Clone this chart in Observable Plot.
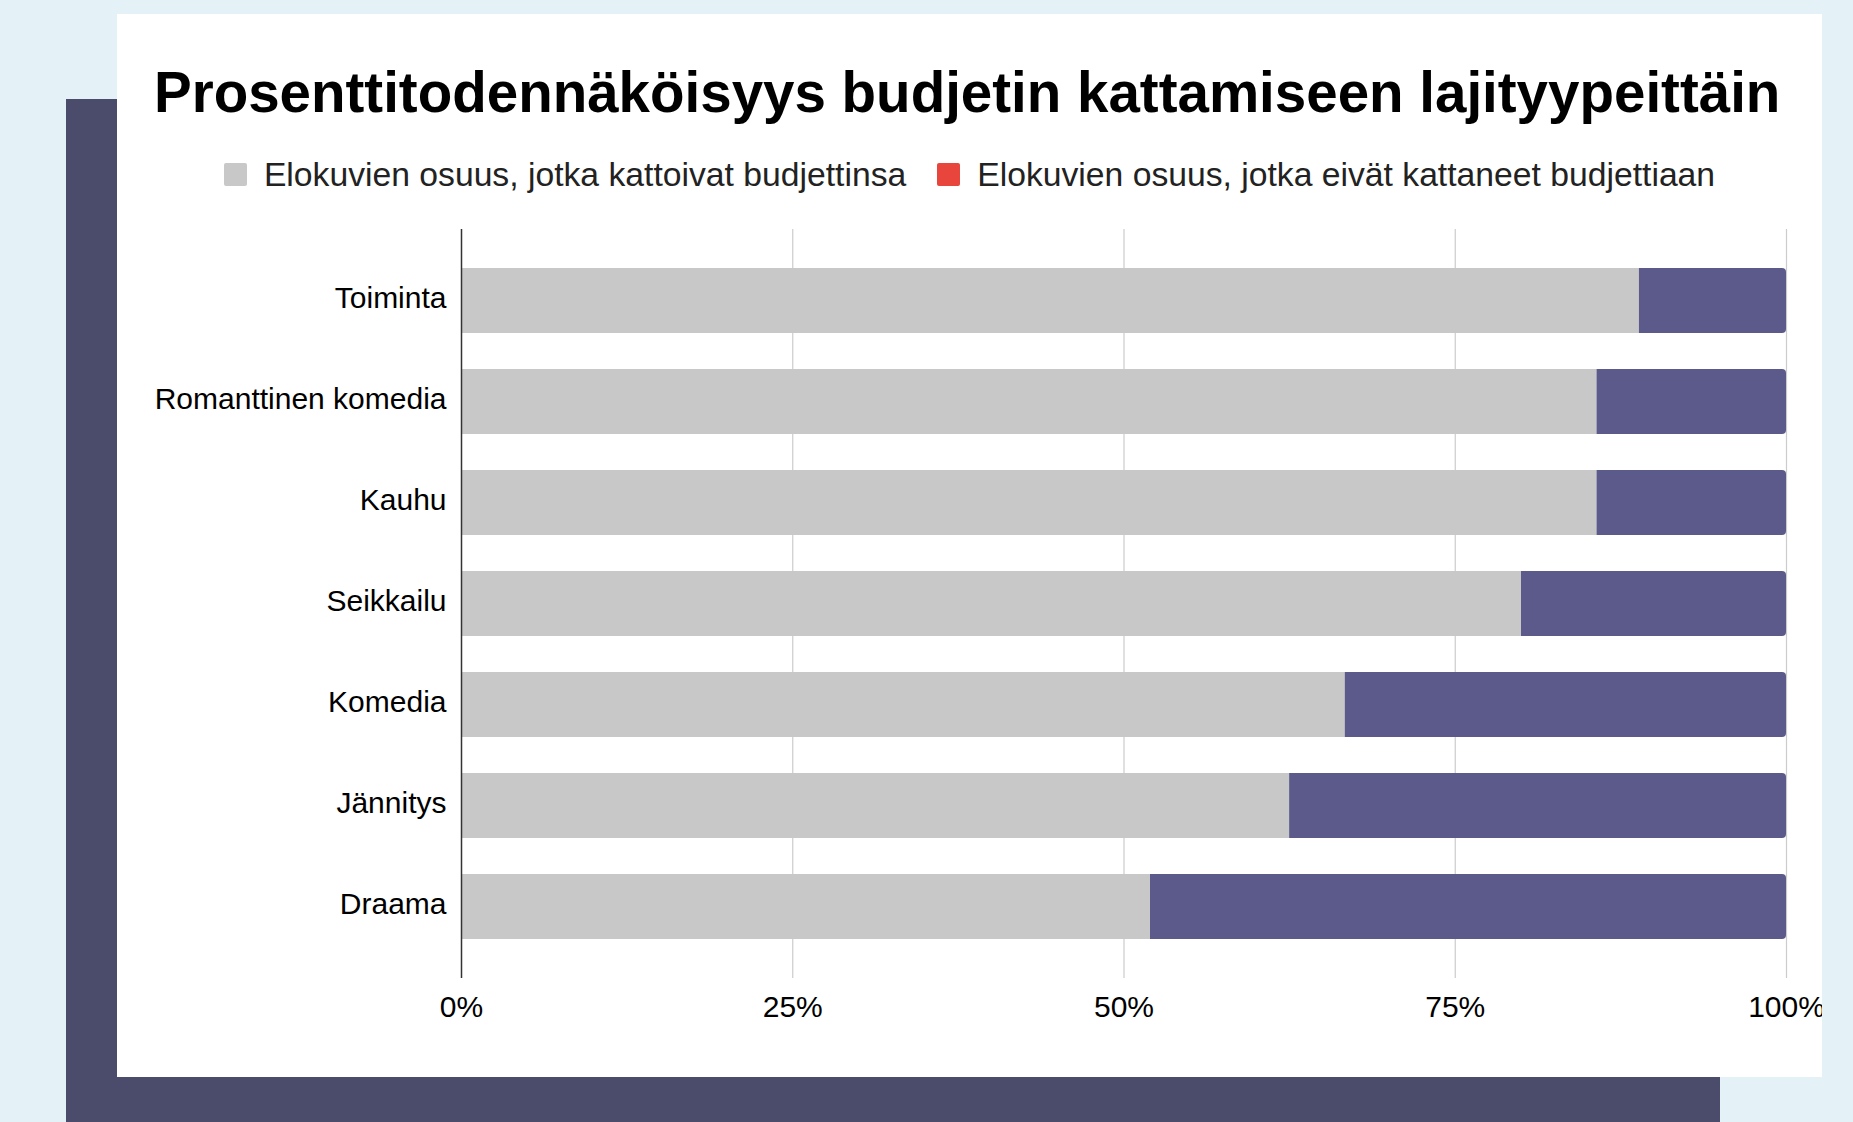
<!DOCTYPE html>
<html>
<head>
<meta charset="utf-8">
<script src="https://cdn.jsdelivr.net/npm/d3@7"></script>
<script src="https://cdn.jsdelivr.net/npm/@observablehq/plot@0.6"></script>
<style>
  html, body { margin: 0; padding: 0; }
  body { width: 1853px; height: 1122px; background: #e4f2f8; position: relative; overflow: hidden;
         font-family: "Liberation Sans", Arial, sans-serif; }
  #shadow { position: absolute; left: 66px; top: 99px; width: 1654px; height: 1100px; background: #4b4b6b; }
  #card { position: absolute; left: 117px; top: 14px; width: 1705px; height: 1063px; background: #fff; overflow: hidden; }
  #title { position: absolute; left: 37px; top: 51px; font-size: 56.5px; line-height: 56.5px; font-weight: bold; color: #000; white-space: nowrap; }
  #legend { position: absolute; left: 0; width: 100%; top: 143px; height: 34px; display: flex; justify-content: center; align-items: center; gap: 31px; }
  .item { display: flex; align-items: center; gap: 17px; font-size: 33.7px; line-height: 34px; color: #222; white-space: nowrap; }
  .sw { width: 23px; height: 23px; border-radius: 2px; display: inline-block; }
  #chart { position: absolute; left: 0; top: 186px; }
</style>
</head>
<body>
<div id="shadow"></div>
<div id="card">
  <div id="title"></div>
  <div id="legend"></div>
  <div id="chart"></div>
</div>
<script>
const titleText = "Prosenttitodennäköisyys budjetin kattamiseen lajityypeittäin";
const genres = ["Toiminta", "Romanttinen komedia", "Kauhu", "Seikkailu", "Komedia", "Jännitys", "Draama"];
const covered = [0.889, 0.857, 0.857, 0.800, 0.667, 0.625, 0.520];
const notCovered = [0.111, 0.143, 0.143, 0.200, 0.333, 0.375, 0.480];
const seriesNames = ["Elokuvien osuus, jotka kattoivat budjettinsa", "Elokuvien osuus, jotka eivät kattaneet budjettiaan"];
const legendColors = ["#c8c8c8", "#e8453c"];
const barColors = ["#c8c8c8", "#5b5a8b"];
const xTicks = [0, 0.25, 0.5, 0.75, 1];

document.getElementById("title").textContent = titleText;
const legend = document.getElementById("legend");
seriesNames.forEach((name, i) => {
  const item = document.createElement("div");
  item.className = "item";
  const sw = document.createElement("span");
  sw.className = "sw";
  sw.style.background = legendColors[i];
  const label = document.createElement("span");
  label.textContent = name;
  item.appendChild(sw);
  item.appendChild(label);
  legend.appendChild(item);
});

const rows = genres.map((g, i) => ({genre: g, covered: covered[i], notCovered: notCovered[i]}));

const chart = Plot.plot({
  width: 1705,
  height: 848,
  marginTop: 29,
  marginBottom: 70,
  marginLeft: 344,
  marginRight: 36,
  style: {fontFamily: "'Liberation Sans', Arial, sans-serif", fontSize: "30px", color: "#000", background: "transparent", overflow: "visible"},
  x: {domain: [0, 1]},
  y: {domain: genres, padding: 0.357},
  marks: [
    Plot.ruleX(xTicks.slice(1), {stroke: "#cccccc", strokeWidth: 1.2}),
    Plot.barX(rows, {y: "genre", x1: 0, x2: "covered", fill: barColors[0]}),
    Plot.barX(rows, {y: "genre", x1: "covered", x2: d => d.covered + d.notCovered, fill: barColors[1], rx2: 4}),
    Plot.ruleX([xTicks[0]], {stroke: "#333", strokeWidth: 1.5}),
    Plot.axisX({ticks: xTicks, tickFormat: d3.format(".0%"), tickSize: 0, tickPadding: 17, fontSize: 30, label: null, fill: "#000"}),
    Plot.axisY({tickSize: 0, tickPadding: 15, fontSize: 30, label: null, fill: "#000", dy: -3})
  ]
});
document.getElementById("chart").appendChild(chart);
</script>
</body>
</html>
